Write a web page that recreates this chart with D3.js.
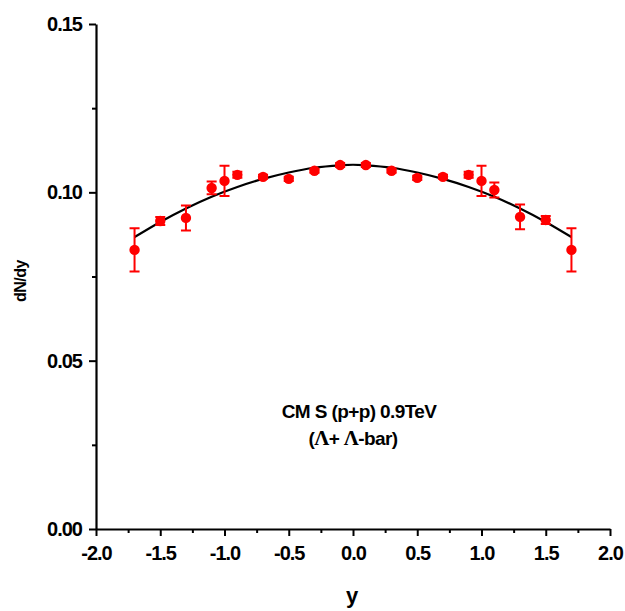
<!DOCTYPE html>
<html>
<head>
<meta charset="utf-8">
<script src="https://cdn.jsdelivr.net/npm/d3@7"></script>
<style>
  body { margin: 0; background: #fff; }
  svg { display: block; }
  .tick-label { font-family: "Liberation Sans", Arial, sans-serif; font-weight: bold; font-size: 20px; letter-spacing: -1px; }
</style>
</head>
<body>
<div id="chart"></div>
<script>
// measured points: CMS p+p 0.9 TeV, Lambda + Lambda-bar
const rapidity = [-1.7, -1.5, -1.3, -1.1, -1.0, -0.9, -0.7, -0.5, -0.3, -0.1,
  0.1, 0.3, 0.5, 0.7, 0.9, 1.0, 1.1, 1.3, 1.5, 1.7];
const dndy = [0.0829, 0.0915, 0.0924, 0.1013, 0.1034, 0.1052, 0.1046, 0.1040, 0.1064, 0.1081,
  0.1081, 0.1064, 0.1043, 0.1046, 0.1052, 0.1034, 0.1007, 0.0927, 0.0918, 0.0829];
const dndyErr = [0.0064, 0.0012, 0.0037, 0.0019, 0.0045, 0.0009, 0.0006, 0.0006, 0.0006, 0.0006,
  0.0006, 0.0006, 0.0006, 0.0006, 0.0009, 0.0045, 0.0022, 0.0037, 0.0012, 0.0064];

// fitted curve
const fitX = [-1.7, -1.5, -1.3, -1.1, -0.9, -0.7, -0.5, -0.3, -0.1, 0.0,
  0.1, 0.3, 0.5, 0.7, 0.9, 1.1, 1.3, 1.5, 1.7];
const fitY = [0.0867, 0.0912, 0.0952, 0.0987, 0.1016, 0.1040, 0.1059, 0.1073, 0.1080, 0.1082,
  0.1080, 0.1073, 0.1059, 0.1040, 0.1016, 0.0987, 0.0952, 0.0912, 0.0867];

const xTicks = [-2.0, -1.5, -1.0, -0.5, 0.0, 0.5, 1.0, 1.5, 2.0];
const yTicks = [0.00, 0.05, 0.10, 0.15];

const width = 625;
const height = 611;
const margin = { top: 24, right: 15, bottom: 82, left: 96 };

const svg = d3.select('#chart').append('svg')
  .attr('width', width)
  .attr('height', height);

const x = d3.scaleLinear().domain([-2, 2]).range([margin.left, width - margin.right]);
const y = d3.scaleLinear().domain([0, 0.15]).range([height - margin.bottom, margin.top]);

// plain hyphen for negatives, like the original
const fmtX = d => d3.format('.1f')(d).replace('\u2212', '-');

// minor ticks first, then major axis on top
svg.append('g')
  .attr('transform', `translate(0,${y(0)})`)
  .call(d3.axisBottom(x).tickValues(d3.range(-1.75, 2, 0.5)).tickSize(4).tickFormat(''))
  .call(g => g.select('.domain').remove())
  .call(g => g.selectAll('line').attr('stroke-width', 2));

svg.append('g')
  .attr('transform', `translate(${x(-2)},0)`)
  .call(d3.axisLeft(y).tickValues([0.025, 0.075, 0.125]).tickSize(4).tickFormat(''))
  .call(g => g.select('.domain').remove())
  .call(g => g.selectAll('line').attr('stroke-width', 2));

const xAxis = svg.append('g')
  .attr('transform', `translate(0,${y(0)})`)
  .call(d3.axisBottom(x).tickValues(xTicks).tickSize(7).tickSizeOuter(0).tickPadding(10)
    .tickFormat(fmtX));
xAxis.select('.domain').attr('stroke-width', 2.2);
xAxis.selectAll('line').attr('stroke-width', 2);
xAxis.selectAll('text').attr('class', 'tick-label').attr('fill', '#000');

const yAxis = svg.append('g')
  .attr('transform', `translate(${x(-2)},0)`)
  .call(d3.axisLeft(y).tickValues(yTicks).tickSize(7).tickSizeOuter(0).tickPadding(7)
    .tickFormat(d3.format('.2f')));
yAxis.select('.domain').attr('stroke-width', 2.2);
yAxis.selectAll('line').attr('stroke-width', 2);
yAxis.selectAll('text').attr('class', 'tick-label').attr('fill', '#000');

// fit line
const line = d3.line()
  .x((d, i) => x(fitX[i]))
  .y(d => y(d))
  .curve(d3.curveMonotoneX);

svg.append('path')
  .datum(fitY)
  .attr('d', line)
  .attr('fill', 'none')
  .attr('stroke', '#000')
  .attr('stroke-width', 2.2);

// error bars
const pts = rapidity.map((r, i) => ({ r, v: dndy[i], e: dndyErr[i] }));
const red = '#ff0000';
const cap = 5;

const bars = svg.append('g').attr('stroke', red).attr('stroke-width', 2);
bars.selectAll('.err').data(pts).enter().append('path')
  .attr('class', 'err')
  .attr('fill', 'none')
  .attr('d', d => {
    const cx = x(d.r);
    const y1 = y(d.v + d.e);
    const y2 = y(d.v - d.e);
    return `M${cx},${y1}V${y2}M${cx - cap},${y1}H${cx + cap}M${cx - cap},${y2}H${cx + cap}`;
  });

svg.append('g').selectAll('circle').data(pts).enter().append('circle')
  .attr('cx', d => x(d.r))
  .attr('cy', d => y(d.v))
  .attr('r', 5.2)
  .attr('fill', red);

// axis titles
svg.append('text')
  .attr('x', 352)
  .attr('y', 603)
  .attr('text-anchor', 'middle')
  .style('font-family', 'Liberation Sans, Arial, sans-serif')
  .style('font-weight', 'bold')
  .style('font-size', '22px')
  .text('y');

svg.append('text')
  .attr('transform', 'translate(26,281) rotate(-90)')
  .attr('text-anchor', 'middle')
  .style('font-family', 'Liberation Sans, Arial, sans-serif')
  .style('font-weight', 'bold')
  .style('font-size', '16px')
  .style('letter-spacing', '-0.5px')
  .text('dN/dy');

// annotation
const note = svg.append('g')
  .style('font-family', 'Liberation Sans, Arial, sans-serif')
  .style('font-weight', 'bold')
  .style('font-size', '19px')
  .style('letter-spacing', '-0.6px')
  .attr('text-anchor', 'middle');

note.append('text').attr('x', 359).attr('y', 418).text('CM S (p+p) 0.9TeV');

const l2 = note.append('text').attr('x', 353).attr('y', 445);
l2.append('tspan').text('(');
l2.append('tspan').style('font-family', 'Liberation Serif, Times New Roman, serif').style('font-size', '21px').text('Λ');
l2.append('tspan').text('+ ');
l2.append('tspan').style('font-family', 'Liberation Serif, Times New Roman, serif').style('font-size', '21px').text('Λ');
l2.append('tspan').text('-bar)');
</script>
</body>
</html>
